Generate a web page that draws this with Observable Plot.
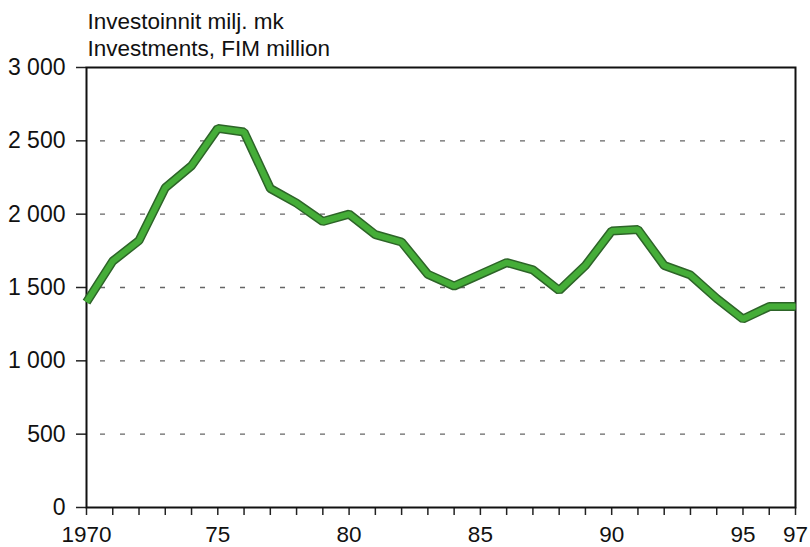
<!DOCTYPE html>
<html>
<head>
<meta charset="utf-8">
<script src="https://cdn.jsdelivr.net/npm/d3@7"></script>
<script src="https://cdn.jsdelivr.net/npm/@observablehq/plot@0.6"></script>
<style>
  html, body { margin: 0; padding: 0; background: #fff; }
</style>
</head>
<body>
<div id="chart"></div>
<script>
const years = [1970,1971,1972,1973,1974,1975,1976,1977,1978,1979,1980,1981,1982,1983,1984,1985,1986,1987,1988,1989,1990,1991,1992,1993,1994,1995,1996,1997];
const investments = [1400,1680,1820,2180,2330,2585,2560,2175,2075,1950,2000,1860,1810,1590,1510,1590,1670,1620,1480,1650,1885,1895,1650,1585,1425,1285,1370,1370];
const yTicks = [0,500,1000,1500,2000,2500,3000];
const xLabelYears = [1970,1975,1980,1985,1990,1995,1997];
const xLabels = ["1970","75","80","85","90","95","97"];
const titleLines = ["Investoinnit milj. mk", "Investments, FIM million"];

const data = years.map((y, i) => ({year: y, value: investments[i]}));
const fmt = d3.formatLocale({thousands: " ", grouping: [3], decimal: ",", currency: ["", ""]}).format(",");

const chart = Plot.plot({
  width: 810,
  height: 547,
  marginLeft: 86,
  marginRight: 15,
  marginTop: 67,
  marginBottom: 40,
  style: {fontFamily: "'Liberation Sans', Arial, Helvetica, sans-serif", fontSize: "23px", color: "#111", background: "#fff"},
  x: {domain: [1970, 1997]},
  y: {domain: [0, 3000]},
  marks: [
    Plot.ruleY(yTicks.filter(d => d > 0 && d < 3000), {stroke: "#666", strokeWidth: 1.3, strokeDasharray: "5,15", strokeDashoffset: -14}),
    Plot.axisY({ticks: yTicks, tickFormat: fmt, tickSize: 10, tickPadding: 11, stroke: "#222", strokeWidth: 1.5, label: null, fontSize: 23}),
    Plot.axisX({ticks: years, tickFormat: () => "", tickSize: 8, stroke: "#222", strokeWidth: 1.5, label: null}),
    Plot.axisX({ticks: xLabelYears, tickFormat: (d) => xLabels[xLabelYears.indexOf(d)], tickSize: 0, tickPadding: 19, label: null, fontSize: 22.5}),
    Plot.frame({stroke: "#111", strokeWidth: 2}),
    Plot.line(data, {x: "year", y: "value", stroke: "#2d6428", strokeWidth: 9, strokeLinejoin: "miter", strokeLinecap: "butt"}),
    Plot.line(data, {x: "year", y: "value", stroke: "#45ad38", strokeWidth: 6, strokeLinejoin: "miter", strokeLinecap: "butt"}),
    Plot.text([titleLines[0]], {frameAnchor: "top-left", dx: 1, dy: -46, textAnchor: "start", lineAnchor: "middle", fontSize: 22.5, fill: "#111"}),
    Plot.text([titleLines[1]], {frameAnchor: "top-left", dx: 1, dy: -19, textAnchor: "start", lineAnchor: "middle", fontSize: 22.5, fill: "#111"})
  ]
});
document.getElementById("chart").appendChild(chart);
</script>
</body>
</html>
